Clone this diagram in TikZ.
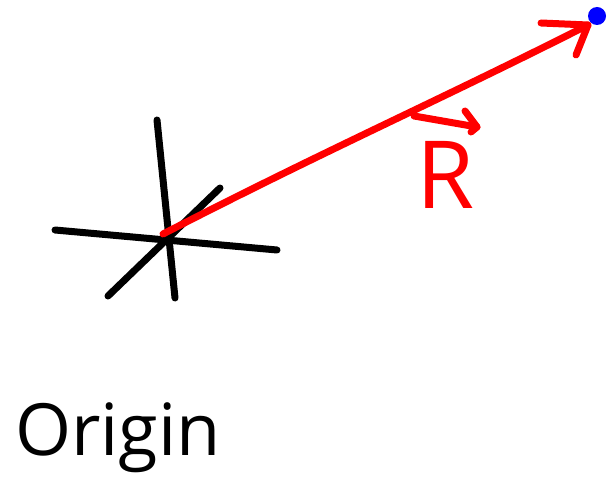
\documentclass[tikz,border=0pt]{standalone}
\usepackage{fontspec}
\setsansfont{Open Sans}
\usetikzlibrary{positioning}
\begin{document}
\begin{tikzpicture}[x=1pt, y=-1pt, line cap=round, line join=round,
    stroke/.style={line width=7pt},
    hand/.style={font=\sffamily, inner sep=0pt}]
  \useasboundingbox (0,0) rectangle (609,494);
  % Axes through the origin
  \coordinate (O) at (163,234);
  \coordinate (xl) at (55,230);
  \coordinate (xr) at (277,250);
  \coordinate (yt) at (157,120);
  \coordinate (yb) at (175,298);
  \coordinate (zt) at (220,188);
  \coordinate (zb) at (108,296);
  \draw[stroke] (xl) -- (xr);
  \draw[stroke] (yt) -- (yb);
  \draw[stroke] (zb) -- (zt);
  % Point and position vector
  \node[circle, fill=blue, inner sep=0pt, minimum size=18pt] (P) at (597,16) {};
  \coordinate (tip) at (588,25);
  \coordinate (barbA) at (541,23);
  \coordinate (barbB) at (576,55);
  \draw[stroke, red] (O) .. controls (330,148) and (440,100) .. (tip);
  \draw[stroke, red] (barbA) -- (tip) -- (barbB);
  % Label
  \node[hand, red, anchor=base, font=\sffamily\fontsize{94}{94}\selectfont] (R) at (446,208) {R};
  \coordinate (vs) at (414,116);
  \coordinate (ve) at (477,127);
  \draw[stroke, red] (vs) -- (ve);
  \draw[stroke, red] (465,111) -- (ve) -- (471,132);
  % Caption
  \node[hand, anchor=base west, font=\sffamily\fontsize{72}{72}\selectfont] (origin) at (15,455) {Origin};
\end{tikzpicture}
\end{document}
